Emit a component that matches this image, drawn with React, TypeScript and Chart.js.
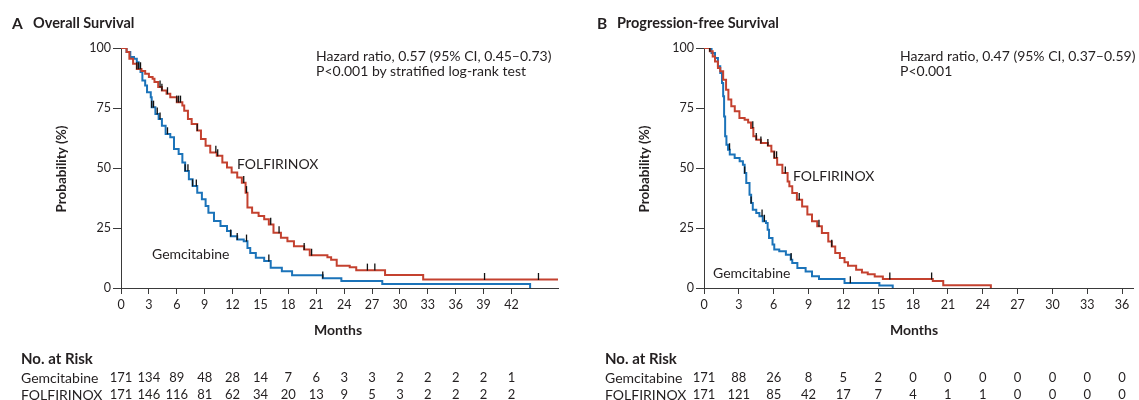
import React, { useEffect, useRef } from 'react';
import { Chart, registerables } from 'chart.js';
Chart.register(...registerables);

const FONT = 'Lato, "Open Sans", sans-serif';
const TEXT = '#231f20';
const RED = '#c4412f';
const BLUE = '#1b73b9';
const AXIS = '#3a3a3a';

// Ticks
const yTicks = [0, 25, 50, 75, 100];
const osMonthTicks = [0, 3, 6, 9, 12, 15, 18, 21, 24, 27, 30, 33, 36, 39, 42];
const pfsMonthTicks = [0, 3, 6, 9, 12, 15, 18, 21, 24, 27, 30, 33, 36];

// Overall survival – FOLFIRINOX
const osFolT = [0, 0.6, 0.9, 1.3, 1.7, 2.2, 2.6, 3.0, 3.4, 3.6, 4.0, 4.4, 4.9, 5.3, 6.0, 6.6, 6.8, 7.2, 7.6, 8.2, 8.6, 9.1, 9.6, 10.3, 10.9, 11.4, 11.9, 12.5, 13.0, 13.4, 13.6, 14.1, 14.8, 15.4, 15.9, 16.4, 17.2, 17.9, 18.6, 19.7, 20.3, 22.2, 22.6, 23.2, 24.6, 25.3, 28.4, 32.5, 47.3];
const osFolS = [100, 98.3, 95.5, 93.4, 91.3, 90.4, 89.3, 87.9, 87.2, 85.8, 83.7, 82.3, 80.9, 79.5, 77.4, 76.0, 73.9, 70.4, 68.3, 65.6, 62.1, 59.3, 56.5, 55.1, 52.3, 50.2, 48.1, 46.0, 43.9, 39.7, 33.5, 31.4, 30.0, 28.6, 26.5, 23.0, 20.9, 19.5, 17.4, 16.0, 13.6, 12.8, 11.8, 9.3, 8.6, 7.4, 5.4, 3.5, 3.5];
const osFolCens = [1.7, 1.9, 2.1, 4.2, 4.4, 5.0, 6.0, 6.2, 6.4, 8.2, 10.2, 10.4, 13.2, 13.5, 16.1, 17.0, 19.7, 20.5, 26.5, 27.3, 39.1, 44.9, 47.2];

// Overall survival – Gemcitabine
const osGemT = [0, 0.6, 1.0, 1.4, 1.7, 1.9, 2.1, 2.3, 2.6, 2.8, 3.2, 3.3, 3.7, 4.05, 4.4, 4.8, 5.3, 5.7, 6.2, 6.6, 6.9, 7.3, 7.7, 8.2, 8.7, 9.1, 9.4, 10.0, 10.7, 11.4, 11.8, 12.5, 13.2, 13.6, 13.9, 14.5, 15.4, 16.1, 17.3, 18.4, 21.7, 23.7, 28.1, 44];
const osGemS = [100, 98.3, 96.2, 95.5, 94.1, 91.3, 90.0, 86.5, 84.4, 81.6, 79.5, 75.3, 72.5, 70.4, 67.6, 64.2, 62.8, 57.9, 55.8, 52.3, 48.8, 45.3, 42.5, 39.7, 37.0, 34.2, 31.4, 27.9, 25.8, 23.7, 21.6, 20.2, 19.5, 16.7, 14.6, 12.6, 11.2, 8.4, 7.0, 5.3, 4.1, 2.9, 1.7, 0];
const osGemCens = [3.3, 3.5, 3.9, 4.2, 5.0, 6.9, 7.2, 7.7, 8.1, 11.8, 12.5, 13.5, 15.9, 21.7];

// Progression-free survival – FOLFIRINOX
const pfsFolT = [0, 0.5, 0.75, 0.95, 1.2, 1.4, 1.65, 1.9, 2.1, 2.35, 2.65, 3.05, 3.5, 3.8, 4.05, 4.25, 4.5, 4.9, 5.5, 5.8, 6.05, 6.3, 6.75, 7.2, 7.35, 7.6, 8.0, 8.45, 8.9, 9.3, 9.75, 10.15, 10.7, 11.0, 11.3, 11.7, 12.1, 12.4, 13.1, 13.6, 14.1, 14.7, 15.4, 19.7, 20.6, 24.7];
const pfsFolS = [100, 98.6, 96.5, 94.4, 91.7, 90.3, 86.8, 82.6, 78.5, 75.7, 73.6, 70.8, 70.1, 69.0, 66.7, 63.2, 61.8, 60.4, 59.3, 56.9, 54.2, 51.4, 47.9, 44.4, 42.4, 39.6, 36.8, 34.0, 30.6, 27.8, 25.7, 22.9, 19.4, 17.3, 14.6, 12.5, 10.7, 9.3, 7.6, 6.5, 5.7, 4.8, 3.7, 2.9, 1.1, 0];
const pfsFolCens = [0.5, 4.2, 4.5, 4.9, 5.5, 6.05, 6.25, 7.0, 8.2, 9.9, 11.0, 16.0, 19.6];

// Progression-free survival – Gemcitabine
const pfsGemT = [0, 0.65, 0.95, 1.2, 1.4, 1.55, 1.65, 1.73, 1.82, 1.93, 2.07, 2.22, 2.64, 3.07, 3.35, 3.5, 3.64, 3.92, 4.06, 4.2, 4.5, 4.77, 5.06, 5.34, 5.48, 5.6, 5.9, 6.05, 6.48, 7.05, 7.47, 7.6, 8.04, 8.75, 9.3, 9.9, 12.1, 15.1, 16.25];
const pfsGemS = [100, 97.9, 95.8, 92.4, 89.6, 85.4, 79.9, 71.5, 63.2, 59.7, 57.6, 55.6, 54.2, 52.8, 51.4, 47.9, 43.8, 38.9, 35.4, 32.6, 31.3, 29.9, 27.8, 27.1, 24.3, 20.8, 18.1, 16.0, 15.3, 13.9, 11.8, 10.4, 8.3, 6.9, 4.9, 3.7, 2.1, 1.0, 0];
const pfsGemCens = [2.2, 3.5, 4.06, 5.0, 5.2, 7.5, 12.6];

// Numbers at risk
const osRiskGem = [171, 134, 89, 48, 28, 14, 7, 6, 3, 3, 2, 2, 2, 2, 1];
const osRiskFol = [171, 146, 116, 81, 62, 34, 20, 13, 9, 5, 3, 2, 2, 2, 2];
const pfsRiskGem = [171, 88, 26, 8, 5, 2, 0, 0, 0, 0, 0, 0, 0];
const pfsRiskFol = [171, 121, 85, 42, 17, 7, 4, 1, 1, 0, 0, 0, 0];

function toPoints(t: number[], s: number[]) {
  return t.map((x, i) => ({ x, y: s[i] }));
}
function stepAt(t: number[], s: number[], x: number) {
  let v = s[0];
  for (let i = 0; i < t.length; i++) if (t[i] <= x) v = s[i];
  return v;
}
function censorPoints(c: number[], t: number[], s: number[]) {
  return c.map((x) => ({ x, y: stepAt(t, s, x) + 1.3 }));
}

const panelText = {
  id: 'panelText',
  afterDraw(chart: any, _args: any, opts: any) {
    const { ctx, chartArea, scales } = chart;
    const xs = scales.x;
    ctx.save();
    ctx.fillStyle = TEXT;
    ctx.textBaseline = 'middle';
    ctx.font = `bold 14px ${FONT}`;
    ctx.textAlign = 'center';
    ctx.fillText('Months', opts.monthsX, 330);
    ctx.font = `bold 13.5px ${FONT}`;
    ctx.save();
    ctx.translate(chartArea.left - 59, 169);
    ctx.rotate(-Math.PI / 2);
    ctx.fillText('Probability (%)', 0, 0);
    ctx.restore();
    ctx.textAlign = 'left';
    ctx.font = `bold 15px ${FONT}`;
    ctx.fillText('No. at Risk', opts.tableX, 359);
    ctx.font = `14px ${FONT}`;
    ctx.fillText('Gemcitabine', opts.tableX, 378);
    ctx.fillText('FOLFIRINOX', opts.tableX, 395);
    ctx.font = `13px ${FONT}`;
    ctx.textAlign = 'center';
    opts.riskGem.forEach((n: number, i: number) => {
      ctx.fillText(String(n), xs.getPixelForValue(opts.ticks[i]), 378);
    });
    opts.riskFol.forEach((n: number, i: number) => {
      ctx.fillText(String(n), xs.getPixelForValue(opts.ticks[i]), 395);
    });
    ctx.restore();
  },
};

type PanelProps = {
  left: number;
  width: number;
  axisLeft: number;
  padRight: number;
  xMax: number;
  xTicks: number[];
  folT: number[];
  folS: number[];
  gemT: number[];
  gemS: number[];
  folC: number[];
  gemC: number[];
  riskGem: number[];
  riskFol: number[];
  monthsX: number;
  tableX: number;
};

function KMPanel(p: PanelProps) {
  const ref = useRef<HTMLCanvasElement | null>(null);
  useEffect(() => {
    if (!ref.current) return;
    const tickFont = { family: FONT, size: 12.5 };
    const censorStyle = {
      type: 'scatter',
      pointStyle: 'line',
      rotation: 90,
      radius: 3.5,
      borderColor: '#111',
      backgroundColor: '#111',
      borderWidth: 1.3,
      showLine: false,
    };
    const chart = new Chart(ref.current, {
      type: 'line',
      data: {
        datasets: [
          { ...censorStyle, data: censorPoints(p.folC, p.folT, p.folS) } as any,
          { ...censorStyle, data: censorPoints(p.gemC, p.gemT, p.gemS) } as any,
          {
            data: toPoints(p.folT, p.folS),
            borderColor: RED,
            borderWidth: 2,
            pointRadius: 0,
            stepped: 'before',
            fill: false,
          },
          {
            data: toPoints(p.gemT, p.gemS),
            borderColor: BLUE,
            borderWidth: 2,
            pointRadius: 0,
            stepped: 'before',
            fill: false,
          },
        ],
      },
      options: {
        responsive: false,
        animation: false,
        events: [],
        layout: { padding: { top: 48, left: 0, right: p.padRight, bottom: 0 } },
        plugins: {
          legend: { display: false },
          tooltip: { enabled: false },
          panelText: {
            monthsX: p.monthsX,
            tableX: p.tableX,
            riskGem: p.riskGem,
            riskFol: p.riskFol,
            ticks: p.xTicks,
          },
        } as any,
        scales: {
          x: {
            type: 'linear',
            min: 0,
            max: p.xMax,
            afterBuildTicks: (s: any) => {
              s.ticks = p.xTicks.map((v) => ({ value: v }));
            },
            afterFit: (s: any) => {
              s.height = 112;
            },
            ticks: { font: tickFont, color: TEXT, padding: 3, maxRotation: 0, autoSkip: false },
            grid: { drawOnChartArea: false, drawTicks: true, tickLength: 6, color: AXIS, lineWidth: 1 },
            border: { display: true, color: AXIS, width: 1 },
          },
          y: {
            type: 'linear',
            min: 0,
            max: 100,
            afterBuildTicks: (s: any) => {
              s.ticks = yTicks.map((v) => ({ value: v }));
            },
            afterFit: (s: any) => {
              s.width = p.axisLeft;
            },
            ticks: { font: tickFont, color: TEXT, padding: 2 },
            grid: { drawOnChartArea: false, drawTicks: true, tickLength: 8, color: AXIS, lineWidth: 1 },
            border: { display: true, color: AXIS, width: 1 },
          },
        },
      },
      plugins: [panelText as any],
    });
    return () => chart.destroy();
  }, []);
  return (
    <canvas
      ref={ref}
      width={p.width}
      height={400}
      style={{ position: 'absolute', left: p.left, top: 0, width: p.width, height: 400 }}
    />
  );
}

function Label(props: { x: number; y: number; size: number; bold?: boolean; children: React.ReactNode }) {
  return (
    <div
      style={{
        position: 'absolute',
        left: props.x,
        top: props.y - 9,
        height: 18,
        lineHeight: '18px',
        fontSize: props.size,
        fontWeight: props.bold ? 700 : 400,
        fontFamily: FONT,
        color: TEXT,
        whiteSpace: 'nowrap',
      }}
    >
      {props.children}
    </div>
  );
}

export default function App() {
  return (
    <div
      style={{
        position: 'absolute',
        left: 0,
        top: 0,
        width: 1139,
        height: 400,
        overflow: 'hidden',
        background: '#fff',
      }}
    >
      <KMPanel
        left={0}
        width={575}
        axisLeft={121}
        padRight={17}
        xMax={47}
        xTicks={osMonthTicks}
        folT={osFolT}
        folS={osFolS}
        gemT={osGemT}
        gemS={osGemS}
        folC={osFolCens}
        gemC={osGemCens}
        riskGem={osRiskGem}
        riskFol={osRiskFol}
        monthsX={338}
        tableX={21}
      />
      <KMPanel
        left={575}
        width={564}
        axisLeft={129}
        padRight={0}
        xMax={37}
        xTicks={pfsMonthTicks}
        folT={pfsFolT}
        folS={pfsFolS}
        gemT={pfsGemT}
        gemS={pfsGemS}
        folC={pfsFolCens}
        gemC={pfsGemCens}
        riskGem={pfsRiskGem}
        riskFol={pfsRiskFol}
        monthsX={339}
        tableX={30}
      />
      <Label x={12} y={23} size={15.5} bold>A</Label>
      <Label x={33} y={23} size={14.5} bold>Overall Survival</Label>
      <Label x={597} y={23} size={15.5} bold>B</Label>
      <Label x={617} y={23} size={14.5} bold>Progression-free Survival</Label>
      <Label x={316} y={56} size={14}>Hazard ratio, 0.57 (95% CI, 0.45–0.73)</Label>
      <Label x={316} y={71} size={14}>P&lt;0.001 by stratified log-rank test</Label>
      <Label x={900} y={56} size={14}>Hazard ratio, 0.47 (95% CI, 0.37–0.59)</Label>
      <Label x={900} y={71} size={14}>P&lt;0.001</Label>
      <Label x={237} y={164} size={14}>FOLFIRINOX</Label>
      <Label x={152} y={254} size={14}>Gemcitabine</Label>
      <Label x={793} y={176} size={14}>FOLFIRINOX</Label>
      <Label x={713} y={273} size={14}>Gemcitabine</Label>
    </div>
  );
}
